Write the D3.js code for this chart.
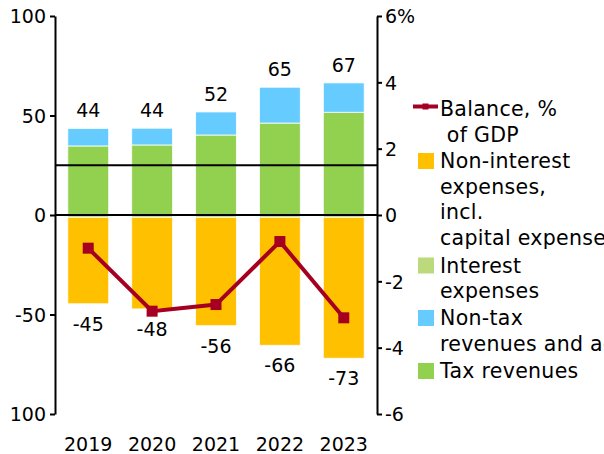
<!DOCTYPE html>
<html>
<head>
<meta charset="utf-8">
<script src="https://cdn.jsdelivr.net/npm/d3@7"></script>
<style>
  body { margin: 0; background: #fff; }
  svg { display: block; font-family: "DejaVu Sans", Verdana, sans-serif; }
</style>
</head>
<body>
<div id="chart"></div>
<script>
// data
const years = ['2019', '2020', '2021', '2022', '2023'];
const taxRevenues = [34.7, 35.2, 40.2, 46.2, 51.6];
const nonTaxRevenues = [8.8, 8.4, 11.6, 18.0, 14.8];
const interestExpenses = [-1.2, -1.2, -1.2, -1.2, -1.2];
const nonInterestExpenses = [-43.4, -46.0, -54.4, -64.3, -70.8];
const revenueLabels = ['44', '44', '52', '65', '67'];
const expenseLabels = ['-45', '-48', '-56', '-66', '-73'];
const balance = [-1.0, -2.9, -2.7, -0.8, -3.1];
const leftTicks = [100, 50, 0, -50, -100];
const leftTickLabels = ['100', '50', '0', '-50', '100'];
const rightTicks = [6, 4, 2, 0, -2, -4, -6];
const rightTickLabels = ['6%', '4', '2', '0', '-2', '-4', '-6'];
const refLine = 25;

const colors = {
  tax: '#92d050',
  nontax: '#66ccff',
  interest: '#bcd97c',
  nonint: '#ffc000',
  balance: '#a50021'
};

const width = 604, height = 454;
const plotLeft = 55, plotRight = 377, plotTop = 16, plotBottom = 414;

const svg = d3.select('#chart').append('svg')
  .attr('width', width)
  .attr('height', height);

const x = d3.scaleBand().domain(years).range([plotLeft, plotRight]).paddingInner(0.36).paddingOuter(0.2);
const y = d3.scaleLinear().domain([-100, 100]).range([plotBottom, plotTop]);
const y2 = d3.scaleLinear().domain([-6, 6]).range([plotBottom, plotTop]);

// table for the stack
const rows = years.map((yr, i) => ({
  year: yr,
  tax: taxRevenues[i],
  nontax: nonTaxRevenues[i],
  interest: interestExpenses[i],
  nonint: nonInterestExpenses[i]
}));

const series = d3.stack()
  .keys(['tax', 'nontax', 'interest', 'nonint'])
  .offset(d3.stackOffsetDiverging)(rows);

svg.append('g').selectAll('g')
  .data(series)
  .join('g')
  .attr('fill', s => colors[s.key])
  .selectAll('rect')
  .data(s => s)
  .join('rect')
  .attr('x', d => x(d.data.year))
  .attr('width', x.bandwidth())
  .attr('y', d => y(Math.max(d[0], d[1])))
  .attr('height', d => Math.abs(y(d[0]) - y(d[1])))
  .attr('stroke', '#fff')
  .attr('stroke-opacity', 0.8)
  .attr('stroke-width', 1);

// totals
const revTop = years.map((yr, i) => taxRevenues[i] + nonTaxRevenues[i]);
const expBottom = years.map((yr, i) => interestExpenses[i] + nonInterestExpenses[i]);

svg.append('g').selectAll('text')
  .data(years)
  .join('text')
  .attr('x', d => x(d) + x.bandwidth() / 2)
  .attr('y', (d, i) => y(revTop[i]) - 11)
  .attr('text-anchor', 'middle')
  .attr('font-size', 19)
  .text((d, i) => revenueLabels[i]);

svg.append('g').selectAll('text')
  .data(years)
  .join('text')
  .attr('x', d => x(d) + x.bandwidth() / 2)
  .attr('y', (d, i) => y(expBottom[i]) + 27)
  .attr('text-anchor', 'middle')
  .attr('font-size', 19)
  .text((d, i) => expenseLabels[i]);

// zero line and the line at 25
[0, refLine].forEach(v => {
  svg.append('line')
    .attr('x1', plotLeft).attr('x2', plotRight)
    .attr('y1', y(v)).attr('y2', y(v))
    .attr('stroke', '#000').attr('stroke-width', 2);
});

// balance line
const line = d3.line()
  .x((d, i) => x(years[i]) + x.bandwidth() / 2)
  .y(d => y2(d));

svg.append('path')
  .datum(balance)
  .attr('d', line)
  .attr('fill', 'none')
  .attr('stroke', colors.balance)
  .attr('stroke-width', 4);

svg.append('g').selectAll('rect')
  .data(balance)
  .join('rect')
  .attr('x', (d, i) => x(years[i]) + x.bandwidth() / 2 - 5.5)
  .attr('y', d => y2(d) - 5.5)
  .attr('width', 11)
  .attr('height', 11)
  .attr('fill', colors.balance);

// axes
const leftAxis = svg.append('g')
  .attr('transform', `translate(${plotLeft},0)`)
  .call(d3.axisLeft(y).tickValues(leftTicks).tickSize(5).tickSizeOuter(0)
    .tickFormat((d, i) => leftTickLabels[i]));

const rightAxis = svg.append('g')
  .attr('transform', `translate(${plotRight},0)`)
  .call(d3.axisRight(y2).tickValues(rightTicks).tickSize(5).tickSizeOuter(0)
    .tickFormat((d, i) => rightTickLabels[i]));

[leftAxis, rightAxis].forEach(g => {
  g.select('.domain').attr('stroke', '#000').attr('stroke-width', 2);
  g.selectAll('.tick line').attr('stroke', '#000').attr('stroke-width', 2);
  g.selectAll('.tick text')
    .attr('font-family', '"DejaVu Sans", Verdana, sans-serif')
    .attr('font-size', 19)
    .attr('fill', '#000')
    .attr('dy', '0.36em');
});
leftAxis.selectAll('.tick text').attr('x', -9);
rightAxis.selectAll('.tick text').attr('x', 8);

// year labels
svg.append('g').selectAll('text')
  .data(years)
  .join('text')
  .attr('x', d => x(d) + x.bandwidth() / 2)
  .attr('y', 451)
  .attr('text-anchor', 'middle')
  .attr('font-size', 19)
  .text(d => d);

// legend (the longer lines run past the right edge, as in the original)
const legendItems = [
  { key: 'balance', lines: ['Balance, %', ' of GDP'], base: 116 },
  { key: 'nonint', lines: ['Non-interest', 'expenses,', 'incl.', 'capital expenses'], base: 168 },
  { key: 'interest', lines: ['Interest', 'expenses'], base: 272.5 },
  { key: 'nontax', lines: ['Non-tax', 'revenues and advances'], base: 325 },
  { key: 'tax', lines: ['Tax revenues'], base: 378 }
];
const lineGap = 25.5;
const legend = svg.append('g');

legendItems.forEach(item => {
  if (item.key === 'balance') {
    legend.append('line')
      .attr('x1', 413).attr('x2', 438)
      .attr('y1', item.base - 9.5).attr('y2', item.base - 9.5)
      .attr('stroke', colors.balance).attr('stroke-width', 4);
    legend.append('rect')
      .attr('x', 422.5).attr('y', item.base - 12.5)
      .attr('width', 6).attr('height', 6)
      .attr('fill', colors.balance);
  } else {
    legend.append('rect')
      .attr('x', 418).attr('y', item.base - 15)
      .attr('width', 16).attr('height', 16)
      .attr('fill', colors[item.key]);
  }
  const t = legend.append('text')
    .attr('font-size', 20.5)
    .attr('letter-spacing', 0.3)
    .style('white-space', 'pre');
  item.lines.forEach((s, j) => {
    t.append('tspan')
      .attr('x', 440)
      .attr('y', item.base + j * lineGap)
      .text(s);
  });
});
</script>
</body>
</html>
